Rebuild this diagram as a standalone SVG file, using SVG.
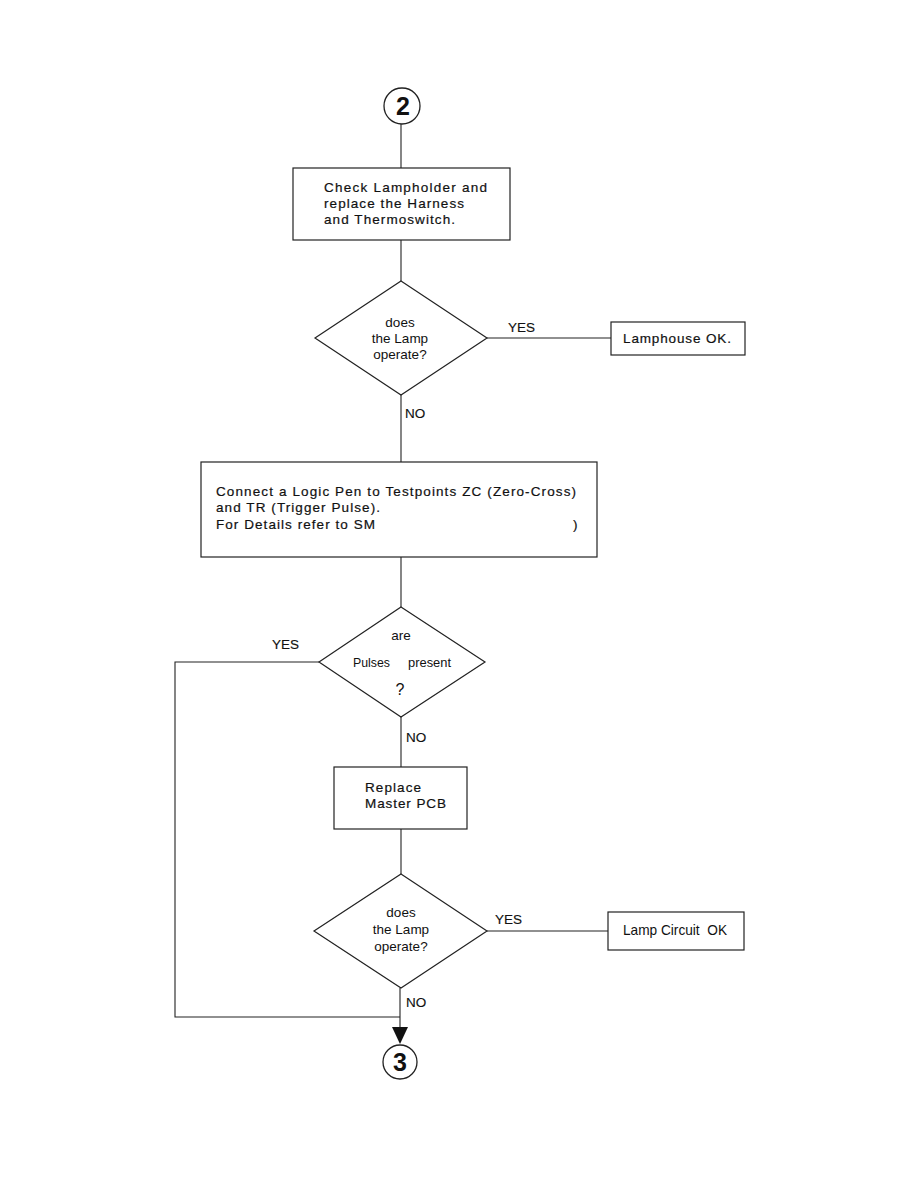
<svg xmlns="http://www.w3.org/2000/svg" width="918" height="1188" viewBox="0 0 918 1188">
<style>
.box{fill:#fff;stroke:#222;stroke-width:1.2}
.ln{fill:none;stroke:#222;stroke-width:1.1}
.t{font-family:"Liberation Sans",Arial,sans-serif;font-size:13.5px;fill:#111;stroke:#111;stroke-width:0.2}
.d{font-family:"Liberation Sans",Arial,sans-serif;font-size:13.5px;fill:#111;text-anchor:middle}
.lbl{font-family:"Liberation Sans",Arial,sans-serif;font-size:13.5px;fill:#111;stroke:#111;stroke-width:0.15}
.lb2{font-family:"Liberation Sans",Arial,sans-serif;font-size:13.5px;fill:#111}
.num{font-family:"Liberation Sans",Arial,sans-serif;font-size:25px;font-weight:bold;fill:#111;text-anchor:middle}
</style>
<rect width="918" height="1188" fill="#fff"/>
<g id="connectors">
<line class="ln" x1="401" y1="124" x2="401" y2="168"/>
<line class="ln" x1="401" y1="240" x2="401" y2="281"/>
<line class="ln" x1="487" y1="338" x2="611" y2="338"/>
<line class="ln" x1="401" y1="395" x2="401" y2="462"/>
<line class="ln" x1="401" y1="557" x2="401" y2="607"/>
<polyline class="ln" points="319,662 175,662 175,1017 400,1017"/>
<line class="ln" x1="401" y1="717" x2="401" y2="767"/>
<line class="ln" x1="401" y1="829" x2="401" y2="874"/>
<line class="ln" x1="487" y1="931" x2="608" y2="931"/>
<line class="ln" x1="400" y1="988" x2="400" y2="1028"/>
<polygon points="392,1027 408,1027 400,1044" fill="#111"/>
<text class="lbl" x="508" y="332">YES</text>
<text class="lbl" x="405" y="418">NO</text>
<text class="lbl" x="272" y="649">YES</text>
<text class="lbl" x="406" y="742">NO</text>
<text class="lbl" x="495" y="924">YES</text>
<text class="lbl" x="406" y="1007">NO</text>
</g>
<g id="start2">
<circle cx="402" cy="106" r="18" fill="#fff" stroke="#222" stroke-width="1.3"/>
<text class="num" x="403" y="115">2</text>
</g>
<g id="box1">
<rect class="box" x="293" y="168" width="217" height="72"/>
<text class="t" x="324" y="192" textLength="163" lengthAdjust="spacing">Check Lampholder and</text>
<text class="t" x="324" y="208" textLength="140" lengthAdjust="spacing">replace the Harness</text>
<text class="t" x="324" y="224" textLength="131" lengthAdjust="spacing">and Thermoswitch.</text>
</g>
<g id="dec1">
<polygon class="box" points="401,281 487,338 401,395 315,338"/>
<text class="d" x="400" y="327">does</text>
<text class="d" x="400" y="343">the Lamp</text>
<text class="d" x="400" y="359">operate?</text>
</g>
<g id="ok1">
<rect class="box" x="611" y="322" width="134" height="33"/>
<text class="t" x="623" y="343" textLength="108" lengthAdjust="spacing">Lamphouse OK.</text>
</g>
<g id="box2">
<rect class="box" x="201" y="462" width="396" height="95"/>
<text class="t" x="216" y="496" textLength="360" lengthAdjust="spacing">Connect a Logic Pen to Testpoints ZC (Zero-Cross)</text>
<text class="t" x="216" y="512" textLength="164" lengthAdjust="spacing">and TR (Trigger Pulse).</text>
<text class="t" x="216" y="529" textLength="159" lengthAdjust="spacing">For Details refer to SM</text>
<text class="t" x="573" y="529">)</text>
</g>
<g id="dec2">
<polygon class="box" points="401,607 485,662 401,717 319,662"/>
<text class="d" x="401" y="640">are</text>
<text class="lb2" x="353" y="667" textLength="37" lengthAdjust="spacingAndGlyphs">Pulses</text>
<text class="lb2" x="408" y="667" textLength="43" lengthAdjust="spacingAndGlyphs">present</text>
<text class="d" x="400" y="695" style="font-size:16px">?</text>
</g>
<g id="box3">
<rect class="box" x="334" y="767" width="133" height="62"/>
<text class="t" x="365" y="792" textLength="56" lengthAdjust="spacing">Replace</text>
<text class="t" x="365" y="808" textLength="81" lengthAdjust="spacing">Master PCB</text>
</g>
<g id="dec3">
<polygon class="box" points="401,874 487,931 401,988 314,931"/>
<text class="d" x="401" y="917">does</text>
<text class="d" x="401" y="934">the Lamp</text>
<text class="d" x="401" y="951">operate?</text>
</g>
<g id="ok2">
<rect class="box" x="608" y="912" width="136" height="38"/>
<text class="lb2" x="623" y="935" textLength="104" lengthAdjust="spacingAndGlyphs" xml:space="preserve" style="font-size:14.5px">Lamp Circuit  OK</text>
</g>
<g id="end3">
<circle cx="400" cy="1062" r="17" fill="#fff" stroke="#222" stroke-width="1.3"/>
<text class="num" x="400" y="1071">3</text>
</g>
</svg>
